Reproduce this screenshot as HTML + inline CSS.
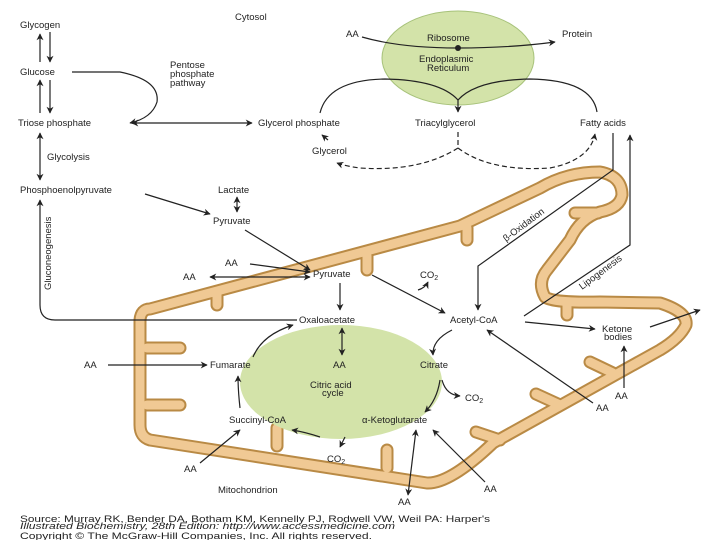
<!DOCTYPE html>
<html><head><meta charset="utf-8"><style>
html,body{margin:0;padding:0;background:#fff;width:720px;height:540px;overflow:hidden}
svg text{font-family:"Liberation Sans",sans-serif;font-size:9.5px;fill:#222}
</style></head><body>
<svg width="720" height="540" viewBox="0 0 720 540" xmlns="http://www.w3.org/2000/svg">
<defs>
<marker id="a" viewBox="0 0 10 10" refX="9" refY="5" markerWidth="7" markerHeight="7" orient="auto-start-reverse" markerUnits="userSpaceOnUse"><path d="M0,0L10,5L0,10L3,5z" fill="#222"/></marker>
</defs>
<g fill="none" stroke-linejoin="round" stroke-linecap="round">
<g stroke="#b98a45" stroke-width="13">
<path d="M150,309 L460,226 L540,188 Q567,172 600,172 Q622,176 622,195 Q620,208 600,212 Q580,218 570,240 L547,270 Q537,282 545,297 Q553,303 600,302 L660,303 Q688,312 686,325 Q680,338 660,350 L493,443 Q450,484 427,483 L150,440 Q140,437 140,425 L140,320 Q141,309 150,309 Z"/>
<path d="M147,348H180M147,405H180M217,294V305M467,228V240M367,256V270M277,446V428M387,468V450M500,440L476,432M560,405L536,394M613,373L590,362M598,213H575M567,302V315"/>
</g>
<g stroke="#f0c994" stroke-width="9">
<path d="M150,309 L460,226 L540,188 Q567,172 600,172 Q622,176 622,195 Q620,208 600,212 Q580,218 570,240 L547,270 Q537,282 545,297 Q553,303 600,302 L660,303 Q688,312 686,325 Q680,338 660,350 L493,443 Q450,484 427,483 L150,440 Q140,437 140,425 L140,320 Q141,309 150,309 Z"/>
<path d="M147,348H180M147,405H180M217,294V305M467,228V240M367,256V270M277,446V428M387,468V450M500,440L476,432M560,405L536,394M613,373L590,362M598,213H575M567,302V315"/>
</g>
</g>
<ellipse cx="458" cy="58" rx="76" ry="47" fill="#d3e3a9" stroke="#a7c27a"/>
<ellipse cx="341" cy="382" rx="101" ry="57" fill="#d3e3a9"/>
<g stroke="#222" stroke-width="1.2" fill="none">
<path d="M40,62V34" marker-end="url(#a)"/><path d="M50,32V62" marker-end="url(#a)"/>
<path d="M40,113V80" marker-end="url(#a)"/><path d="M50,80V113" marker-end="url(#a)"/>
<path d="M40,133V180" marker-start="url(#a)" marker-end="url(#a)"/>
<path d="M72,72H120Q160,80 157,102Q152,118 130,123" marker-end="url(#a)"/>
<path d="M132,123H252" marker-start="url(#a)" marker-end="url(#a)"/>
<path d="M145,194L210,214" marker-end="url(#a)"/>
<path d="M237,197V212" marker-start="url(#a)" marker-end="url(#a)"/>
<path d="M245,230L310,270" marker-end="url(#a)"/>
<path d="M250,264L310,272" marker-end="url(#a)"/>
<path d="M210,277H310" marker-start="url(#a)" marker-end="url(#a)"/>
<path d="M340,283V310" marker-end="url(#a)"/>
<path d="M372,275L445,313" marker-end="url(#a)"/>
<path d="M418,290Q425,288 428,282" marker-end="url(#a)"/>
<path d="M297,320H55Q40,320 40,305V200" marker-end="url(#a)"/>
<path d="M342,328V355" marker-start="url(#a)" marker-end="url(#a)"/>
<path d="M108,365H207" marker-end="url(#a)"/>
<path d="M253,357Q262,335 293,325" marker-end="url(#a)"/>
<path d="M452,330Q432,340 433,355" marker-end="url(#a)"/>
<path d="M442,380Q446,395 460,396" marker-end="url(#a)"/>
<path d="M440,380Q437,400 425,412" marker-end="url(#a)"/>
<path d="M320,437Q305,432 292,430" marker-end="url(#a)"/>
<path d="M240,408Q238,390 238,376" marker-end="url(#a)"/>
<path d="M345,437L340,447" marker-end="url(#a)"/>
<path d="M200,463L240,430" marker-end="url(#a)"/>
<path d="M408,495L416,430" marker-start="url(#a)" marker-end="url(#a)"/>
<path d="M485,482L433,430" marker-end="url(#a)"/>
<path d="M593,403L487,330" marker-end="url(#a)"/>
<path d="M525,322L595,329" marker-end="url(#a)"/>
<path d="M624,388V346" marker-end="url(#a)"/>
<path d="M650,327L700,310" marker-end="url(#a)"/>
<path d="M613,133V170L478,266V310" marker-end="url(#a)"/>
<path d="M524,316L630,245V135" marker-end="url(#a)"/>
<path d="M362,37Q400,48 458,48Q510,48 555,42" marker-end="url(#a)"/>
<path d="M320,113Q328,80 385,79Q440,80 458,100Q476,80 530,79Q592,80 597,112"/>
<path d="M458,100V112" marker-end="url(#a)"/>
<path d="M328,140L322,135" marker-end="url(#a)"/>
<path d="M458,132V148Q420,172 360,168Q345,166 337,163" stroke-dasharray="5,3" marker-end="url(#a)"/>
<path d="M458,148Q490,172 550,168Q590,160 595,134" stroke-dasharray="5,3" marker-end="url(#a)"/>
</g>
<circle cx="458" cy="48" r="3" fill="#222"/>
<text x="235" y="20">Cytosol</text>
<text x="20" y="28">Glycogen</text>
<text x="20" y="75">Glucose</text>
<text x="170" y="68">Pentose</text><text x="170" y="77">phosphate</text><text x="170" y="86">pathway</text>
<text x="18" y="126">Triose phosphate</text>
<text x="47" y="160">Glycolysis</text>
<text x="20" y="193">Phosphoenolpyruvate</text>
<text x="218" y="193">Lactate</text>
<text x="213" y="224">Pyruvate</text>
<text x="258" y="126">Glycerol phosphate</text>
<text x="312" y="154">Glycerol</text>
<text x="415" y="126">Triacylglycerol</text>
<text x="580" y="126">Fatty acids</text>
<text x="346" y="37">AA</text>
<text x="562" y="37">Protein</text>
<text x="427" y="41">Ribosome</text>
<text x="419" y="62">Endoplasmic</text><text x="427" y="71">Reticulum</text>
<text x="225" y="266">AA</text>
<text x="183" y="280">AA</text>
<text x="313" y="277">Pyruvate</text>
<text x="420" y="278">CO<tspan font-size="7" dy="2">2</tspan></text>
<text x="299" y="323">Oxaloacetate</text>
<text x="450" y="323">Acetyl-CoA</text>
<text x="602" y="332">Ketone</text><text x="604" y="340">bodies</text>
<text x="84" y="368">AA</text>
<text x="210" y="368">Fumarate</text>
<text x="333" y="368">AA</text>
<text x="420" y="368">Citrate</text>
<text x="310" y="388">Citric acid</text><text x="322" y="396">cycle</text>
<text x="465" y="401">CO<tspan font-size="7" dy="2">2</tspan></text>
<text x="229" y="423">Succinyl-CoA</text>
<text x="362" y="423">α-Ketoglutarate</text>
<text x="184" y="472">AA</text>
<text x="327" y="462">CO<tspan font-size="7" dy="2">2</tspan></text>
<text x="218" y="493">Mitochondrion</text>
<text x="398" y="505">AA</text>
<text x="484" y="492">AA</text>
<text x="596" y="411">AA</text>
<text x="615" y="399">AA</text>
<text transform="translate(506,242) rotate(-37)">β-Oxidation</text>
<text transform="translate(582,290) rotate(-37)">Lipogenesis</text>
<text transform="translate(51,290) rotate(-90)" font-size="9">Gluconeogenesis</text>
<text x="20" y="522" font-size="8" textLength="470" lengthAdjust="spacingAndGlyphs">Source: Murray RK, Bender DA, Botham KM, Kennelly PJ, Rodwell VW, Weil PA: Harper's</text>
<text x="20" y="529" font-size="8" font-style="italic" textLength="375" lengthAdjust="spacingAndGlyphs">Illustrated Biochemistry, 28th Edition: http://www.accessmedicine.com</text>
<text x="20" y="539" font-size="8" textLength="352" lengthAdjust="spacingAndGlyphs">Copyright © The McGraw-Hill Companies, Inc. All rights reserved.</text>
</svg>
</body></html>
